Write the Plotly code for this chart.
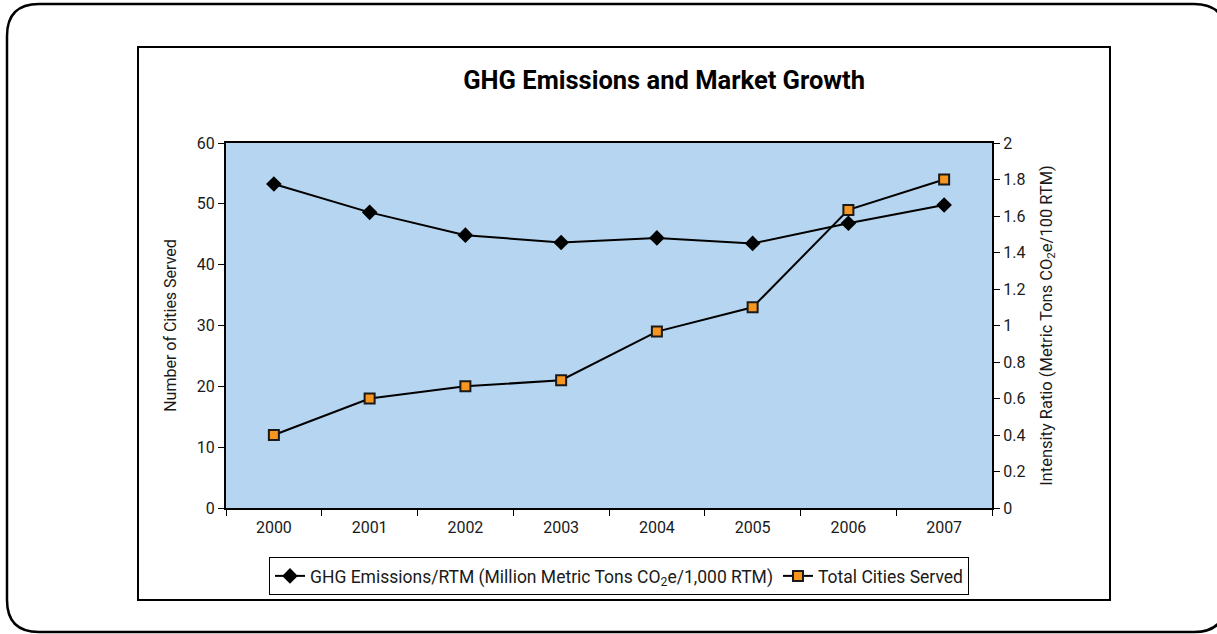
import plotly.graph_objects as go

years = ["2000", "2001", "2002", "2003", "2004", "2005", "2006", "2007"]
ghg_per_rtm = [1.775, 1.62, 1.495, 1.455, 1.48, 1.45, 1.56, 1.66]
cities_served = [12, 18, 20, 21, 29, 33, 49, 54]

W, H = 1217, 634
L, R, T, B = 226, 992, 143, 508


def px(x):
    return (x - L) / (R - L)


def py(y):
    return (B - y) / (B - T)


FONT = "Roboto"

fig = go.Figure()
fig.add_trace(go.Scatter(
    x=years, y=ghg_per_rtm, yaxis="y2", mode="lines+markers",
    name="GHG Emissions/RTM (Million Metric Tons CO<sub>2</sub>e/1,000 RTM)",
    line=dict(color="black", width=2),
    marker=dict(symbol="diamond", size=12, color="black"),
))
fig.add_trace(go.Scatter(
    x=years, y=cities_served, mode="lines+markers",
    name="Total Cities Served",
    line=dict(color="black", width=2),
    marker=dict(symbol="square", size=10, color="#F7961E",
                line=dict(color="#1a1a1a", width=2)),
))


def rounded_rect(x0, y0, x1, y1, r):
    pts = [
        f"M {px(x0 + r)} {py(y0)}",
        f"L {px(x1 - r)} {py(y0)}",
        f"Q {px(x1)} {py(y0)} {px(x1)} {py(y0 + r)}",
        f"L {px(x1)} {py(y1 - r)}",
        f"Q {px(x1)} {py(y1)} {px(x1 - r)} {py(y1)}",
        f"L {px(x0 + r)} {py(y1)}",
        f"Q {px(x0)} {py(y1)} {px(x0)} {py(y1 - r)}",
        f"L {px(x0)} {py(y0 + r)}",
        f"Q {px(x0)} {py(y0)} {px(x0 + r)} {py(y0)}",
        "Z",
    ]
    return " ".join(pts)


shapes = [
    dict(type="path", xref="paper", yref="paper",
         path=rounded_rect(7, 4, 1226, 632, 32),
         line=dict(color="black", width=2.5), layer="below"),
    dict(type="rect", xref="paper", yref="paper",
         x0=px(138), x1=px(1110), y0=py(47), y1=py(600),
         line=dict(color="black", width=2), layer="below"),
]

fig.update_layout(
    width=W, height=H,
    margin=dict(l=L, r=W - R, t=T, b=H - B),
    paper_bgcolor="white",
    plot_bgcolor="#B5D5F0",
    font=dict(family=FONT, size=16, color="#1a1a1a"),
    title=dict(text="<b>GHG Emissions and Market Growth</b>",
               x=px(644), xanchor="center", y=1 - 80 / H,
               yanchor="middle",
               font=dict(family=FONT, size=25.5, color="black")),
    xaxis=dict(
        type="category", range=[-0.5, 7.5], tickson="boundaries",
        ticks="outside", ticklen=6, tickcolor="black", tickwidth=1,
        showline=True, linecolor="black", linewidth=2, mirror=True,
        showgrid=False, zeroline=False, ticklabelstandoff=4,
        tickfont=dict(size=16),
    ),
    yaxis=dict(
        range=[0, 60], dtick=10,
        title=dict(text="Number of Cities Served", font=dict(size=16), standoff=16),
        ticks="outside", ticklen=6, tickcolor="black", tickwidth=1,
        showline=True, linecolor="black", linewidth=2, mirror=True,
        showgrid=False, zeroline=False, tickfont=dict(size=16),
    ),
    yaxis2=dict(
        range=[0, 2], dtick=0.2, overlaying="y", side="right",
        title=dict(text="Intensity Ratio (Metric Tons CO<sub>2</sub>e/100 RTM)",
                   font=dict(size=16.5), standoff=16),
        ticks="outside", ticklen=6, tickcolor="black", tickwidth=1,
        showline=True, linecolor="black", linewidth=2,
        showgrid=False, zeroline=False, tickfont=dict(size=16),
    ),
    legend=dict(
        orientation="h", x=px(619), xanchor="center", y=py(557), yanchor="top",
        bordercolor="black", borderwidth=1, bgcolor="white",
        font=dict(size=17.5), itemwidth=30, tracegroupgap=0,
    ),
    shapes=shapes,
)

fig.write_html("out.html",
               config={"displayModeBar": False},
               post_script="document.body.style.margin='0';"
                           "document.body.style.overflow='hidden';")
